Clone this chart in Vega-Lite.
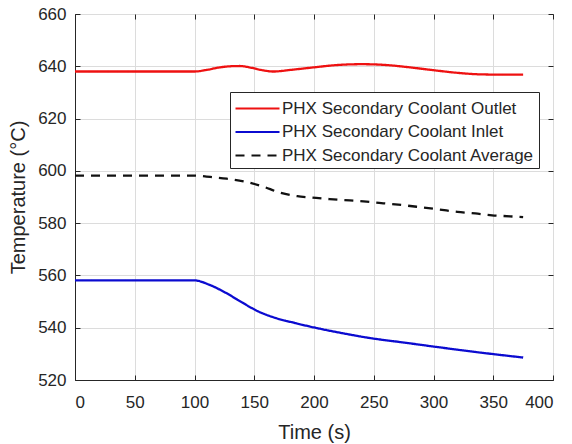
{
  "$schema": "https://vega.github.io/schema/vega-lite/v6.json",
  "width": 478,
  "height": 366,
  "autosize": {"type": "none"},
  "padding": {"left": 75, "top": 14, "right": 19, "bottom": 64},
  "background": "white",
  "config": {
    "font": "Liberation Sans",
    "view": {"stroke": "#262626", "strokeWidth": 1},
    "axis": {
      "labelFont": "Liberation Sans",
      "titleFont": "Liberation Sans",
      "labelFontSize": 17,
      "titleFontSize": 20,
      "labelColor": "#262626",
      "titleColor": "#262626",
      "titleFontWeight": "normal",
      "gridColor": "#dcdcdc",
      "gridWidth": 1,
      "domainColor": "#262626",
      "tickColor": "#262626",
      "tickSize": -5
    },
    "legend": {
      "labelFont": "Liberation Sans",
      "labelFontSize": 17,
      "labelColor": "#262626"
    }
  },
  "data": {
    "values": [
      {"t": 0, "v": 638.0, "s": "PHX Secondary Coolant Outlet"},
      {"t": 100, "v": 638.0, "s": "PHX Secondary Coolant Outlet"},
      {"t": 110, "v": 638.6, "s": "PHX Secondary Coolant Outlet"},
      {"t": 120, "v": 639.5, "s": "PHX Secondary Coolant Outlet"},
      {"t": 130, "v": 640.0, "s": "PHX Secondary Coolant Outlet"},
      {"t": 138, "v": 640.1, "s": "PHX Secondary Coolant Outlet"},
      {"t": 148, "v": 639.4, "s": "PHX Secondary Coolant Outlet"},
      {"t": 158, "v": 638.4, "s": "PHX Secondary Coolant Outlet"},
      {"t": 166, "v": 638.0, "s": "PHX Secondary Coolant Outlet"},
      {"t": 180, "v": 638.6, "s": "PHX Secondary Coolant Outlet"},
      {"t": 200, "v": 639.6, "s": "PHX Secondary Coolant Outlet"},
      {"t": 220, "v": 640.5, "s": "PHX Secondary Coolant Outlet"},
      {"t": 240, "v": 640.8, "s": "PHX Secondary Coolant Outlet"},
      {"t": 260, "v": 640.5, "s": "PHX Secondary Coolant Outlet"},
      {"t": 280, "v": 639.6, "s": "PHX Secondary Coolant Outlet"},
      {"t": 300, "v": 638.5, "s": "PHX Secondary Coolant Outlet"},
      {"t": 320, "v": 637.5, "s": "PHX Secondary Coolant Outlet"},
      {"t": 340, "v": 636.9, "s": "PHX Secondary Coolant Outlet"},
      {"t": 360, "v": 636.8, "s": "PHX Secondary Coolant Outlet"},
      {"t": 375, "v": 636.8, "s": "PHX Secondary Coolant Outlet"},

      {"t": 0, "v": 558.1, "s": "PHX Secondary Coolant Inlet"},
      {"t": 100, "v": 558.1, "s": "PHX Secondary Coolant Inlet"},
      {"t": 112, "v": 556.5, "s": "PHX Secondary Coolant Inlet"},
      {"t": 126, "v": 553.4, "s": "PHX Secondary Coolant Inlet"},
      {"t": 140, "v": 549.6, "s": "PHX Secondary Coolant Inlet"},
      {"t": 154, "v": 546.1, "s": "PHX Secondary Coolant Inlet"},
      {"t": 166, "v": 544.0, "s": "PHX Secondary Coolant Inlet"},
      {"t": 184, "v": 541.8, "s": "PHX Secondary Coolant Inlet"},
      {"t": 201, "v": 540.0, "s": "PHX Secondary Coolant Inlet"},
      {"t": 225, "v": 537.8, "s": "PHX Secondary Coolant Inlet"},
      {"t": 249, "v": 535.9, "s": "PHX Secondary Coolant Inlet"},
      {"t": 274, "v": 534.4, "s": "PHX Secondary Coolant Inlet"},
      {"t": 300, "v": 532.8, "s": "PHX Secondary Coolant Inlet"},
      {"t": 325, "v": 531.3, "s": "PHX Secondary Coolant Inlet"},
      {"t": 350, "v": 529.9, "s": "PHX Secondary Coolant Inlet"},
      {"t": 375, "v": 528.6, "s": "PHX Secondary Coolant Inlet"},

      {"t": 0, "v": 598.2, "s": "PHX Secondary Coolant Average"},
      {"t": 100, "v": 598.2, "s": "PHX Secondary Coolant Average"},
      {"t": 110, "v": 597.8, "s": "PHX Secondary Coolant Average"},
      {"t": 127, "v": 597.0, "s": "PHX Secondary Coolant Average"},
      {"t": 141, "v": 596.0, "s": "PHX Secondary Coolant Average"},
      {"t": 156, "v": 594.2, "s": "PHX Secondary Coolant Average"},
      {"t": 172, "v": 591.6, "s": "PHX Secondary Coolant Average"},
      {"t": 186, "v": 590.3, "s": "PHX Secondary Coolant Average"},
      {"t": 198, "v": 589.8, "s": "PHX Secondary Coolant Average"},
      {"t": 213, "v": 589.2, "s": "PHX Secondary Coolant Average"},
      {"t": 230, "v": 588.7, "s": "PHX Secondary Coolant Average"},
      {"t": 244, "v": 588.2, "s": "PHX Secondary Coolant Average"},
      {"t": 258, "v": 587.6, "s": "PHX Secondary Coolant Average"},
      {"t": 274, "v": 586.9, "s": "PHX Secondary Coolant Average"},
      {"t": 289, "v": 586.1, "s": "PHX Secondary Coolant Average"},
      {"t": 305, "v": 585.2, "s": "PHX Secondary Coolant Average"},
      {"t": 320, "v": 584.3, "s": "PHX Secondary Coolant Average"},
      {"t": 335, "v": 583.7, "s": "PHX Secondary Coolant Average"},
      {"t": 349, "v": 583.0, "s": "PHX Secondary Coolant Average"},
      {"t": 364, "v": 582.6, "s": "PHX Secondary Coolant Average"},
      {"t": 375, "v": 582.3, "s": "PHX Secondary Coolant Average"}
    ]
  },
  "resolve": {"axis": {"x": "independent", "y": "independent"}},
  "layer": [
    {
      "mark": {"type": "line", "interpolate": "monotone"},
      "encoding": {
        "x": {
          "field": "t", "type": "quantitative",
          "scale": {"domain": [0, 400], "nice": false},
          "axis": {"title": "Time (s)", "values": [0,50,100,150,200,250,300,350,400], "labelPadding": 19, "titlePadding": 12}
        },
        "y": {
          "field": "v", "type": "quantitative",
          "scale": {"domain": [520, 660], "nice": false, "zero": false},
          "axis": {"title": "Temperature (°C)", "values": [520,540,560,580,600,620,640,660], "labelPadding": 14, "titlePadding": 9}
        },
        "color": {
          "field": "s", "type": "nominal",
          "scale": {
            "domain": ["PHX Secondary Coolant Outlet", "PHX Secondary Coolant Inlet", "PHX Secondary Coolant Average"],
            "range": ["#ee1111", "#0b0bd0", "#111111"]
          },
          "legend": {
            "title": null,
            "orient": "none",
            "legendX": 155,
            "legendY": 78,
            "symbolType": "M-2,0H2",
            "symbolSize": 484,
            "symbolOffset": 11,
            "symbolStrokeWidth": 2.2,
            "fillColor": "white",
            "strokeColor": "#262626",
            "padding": 4,
            "rowPadding": 2.5,
            "labelOffset": 12,
            "labelLimit": 400,
            "cornerRadius": 0
          }
        },
        "strokeDash": {
          "field": "s", "type": "nominal",
          "scale": {
            "domain": ["PHX Secondary Coolant Outlet", "PHX Secondary Coolant Inlet", "PHX Secondary Coolant Average"],
            "range": [[1, 0], [1, 0], [9, 7]]
          },
          "legend": null
        },
        "strokeWidth": {"value": 2.3}
      }
    },
    {
      "mark": {"type": "line", "opacity": 0},
      "encoding": {
        "x": {
          "field": "t", "type": "quantitative",
          "axis": {"orient": "top", "title": null, "labels": false, "domain": false, "grid": false, "values": [0,50,100,150,200,250,300,350,400]}
        },
        "y": {
          "field": "v", "type": "quantitative",
          "axis": {"orient": "right", "title": null, "labels": false, "domain": false, "grid": false, "values": [520,540,560,580,600,620,640,660]}
        },
        "detail": {"field": "s"}
      }
    }
  ]
}
